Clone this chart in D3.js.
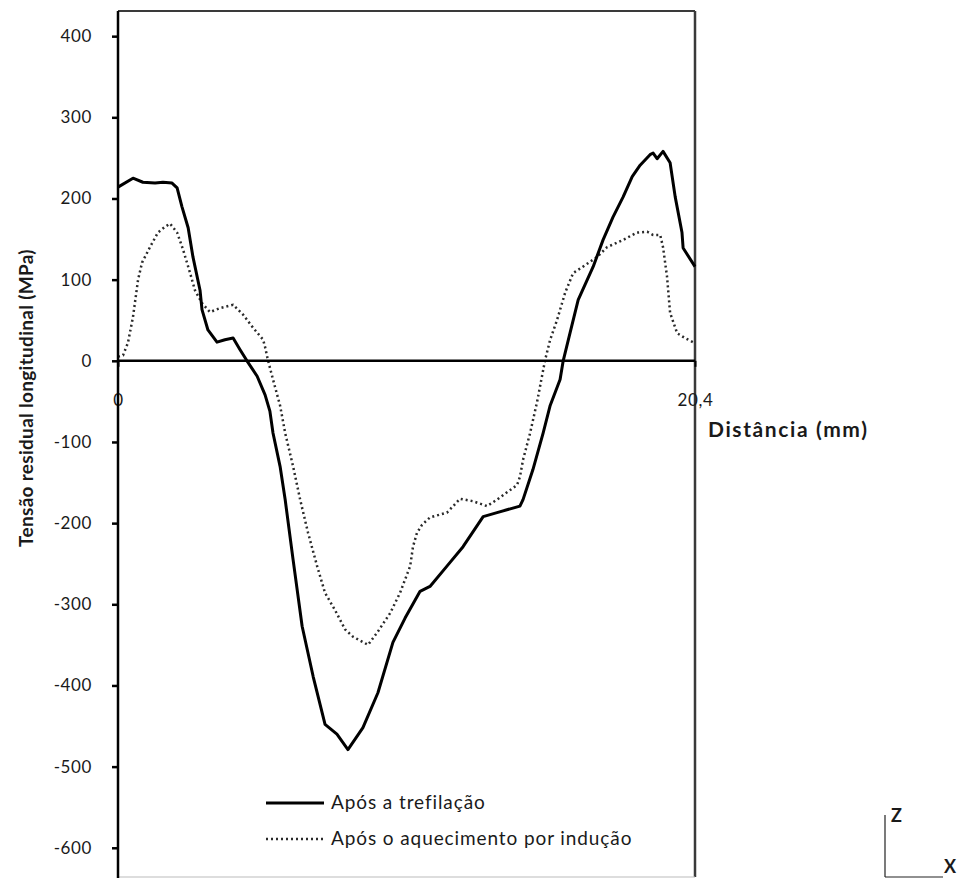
<!DOCTYPE html>
<html><head><meta charset="utf-8">
<script src="https://cdn.jsdelivr.net/npm/d3@7"></script>
<style>
html,body{margin:0;padding:0;background:#fff;}
text{font-family:Lato,"Open Sans",sans-serif;fill:#1a1a1a;}
</style></head>
<body>
<svg id="c" width="958" height="878"></svg>
<script>
const yTicks = [400, 300, 200, 100, 0, -100, -200, -300, -400, -500, -600];
const xTickLabels = ["0", "20,4"];
const xTickValues = [0, 20.4];
const seriesNames = ["Após a trefilação", "Após o aquecimento por indução"];

const trefX = [0, 0.53, 0.88, 1.31, 1.59, 1.91, 2.09, 2.26, 2.48, 2.65, 2.90, 2.97, 3.18, 3.50, 3.78, 4.07, 4.31, 4.56, 4.92, 5.20, 5.37, 5.48, 5.73, 5.91, 6.19, 6.51, 6.90, 7.32, 7.74, 8.13, 8.66, 9.19, 9.72, 10.15, 10.68, 11.03, 11.63, 12.20, 12.91, 13.40, 14.21, 14.32, 14.67, 15.03, 15.28, 15.63, 15.74, 15.98, 16.27, 16.80, 17.15, 17.50, 17.86, 18.18, 18.46, 18.81, 18.92, 19.06, 19.27, 19.52, 19.70, 19.94, 19.98, 20.40];
const trefY = [214, 225, 220, 219, 220, 219, 213, 190, 164, 128, 87, 63, 38, 23, 26, 28, 14, 0, -19, -42, -62, -89, -130, -171, -245, -327, -389, -448, -460, -479, -452, -409, -347, -317, -284, -278, -253, -229, -192, -187, -179, -171, -134, -89, -55, -23, 0, 34, 75, 116, 149, 177, 202, 227, 241, 254, 256, 249, 258, 244, 202, 158, 139, 116];

const aqX = [0, 0.18, 0.35, 0.53, 0.71, 0.85, 1.13, 1.41, 1.66, 1.84, 2.09, 2.30, 2.55, 2.72, 2.97, 3.25, 3.61, 4.07, 4.42, 4.77, 5.13, 5.20, 5.30, 5.48, 5.73, 5.91, 6.19, 6.44, 6.72, 7.04, 7.32, 7.67, 8.03, 8.31, 8.84, 9.16, 9.62, 9.97, 10.33, 10.43, 10.57, 10.75, 11.03, 11.63, 11.85, 12.09, 12.55, 13.05, 13.40, 14.11, 14.21, 14.32, 14.57, 14.82, 15.10, 15.28, 15.52, 15.81, 16.09, 16.44, 16.94, 17.29, 17.86, 18.35, 18.71, 18.92, 19.17, 19.27, 19.41, 19.52, 19.77, 20.05, 20.33];
const aqY = [5, 7, 22, 54, 100, 121, 140, 158, 165, 169, 158, 137, 108, 87, 71, 60, 65, 69, 57, 41, 26, 17, 1, -23, -55, -89, -130, -171, -212, -253, -286, -307, -331, -340, -350, -335, -311, -286, -253, -229, -212, -202, -193, -187, -179, -170, -173, -179, -171, -153, -143, -122, -89, -50, 1, 26, 50, 84, 108, 116, 128, 140, 149, 158, 159, 155, 155, 140, 104, 59, 34, 28, 23];

const svg = d3.select("#c");
const L = 118, R = 695, T = 11, B = 877;
const x = d3.scaleLinear().domain([0, 20.4]).range([L, R]);
const y = d3.scaleLinear().domain([-636, 431]).range([B, T]);

// frame
svg.append("line").attr("x1", L).attr("x2", R).attr("y1", T).attr("y2", T).attr("stroke", "#3a3a3a").attr("stroke-width", 2);
svg.append("line").attr("x1", R).attr("x2", R).attr("y1", T).attr("y2", B).attr("stroke", "#3a3a3a").attr("stroke-width", 2.5);
svg.append("line").attr("x1", L).attr("x2", R).attr("y1", B).attr("y2", B).attr("stroke", "#bbb").attr("stroke-width", 1);

// y axis
const yAxis = d3.axisLeft(y).tickValues(yTicks).tickSize(6).tickPadding(20).tickFormat(d => String(d));
const gy = svg.append("g").attr("transform", `translate(${L},0)`).call(yAxis);
gy.select(".domain").remove();
gy.selectAll(".tick line").attr("stroke", "#000").attr("stroke-width", 2.5);
gy.selectAll(".tick text").style("font-size", "17px").style("letter-spacing", "0.6px").style("fill", "#1a1a1a");

// x axis tick labels (below zero line)
const xAxis = d3.axisBottom(x).tickValues(xTickValues).tickSize(6).tickPadding(27)
  .tickFormat((d, i) => xTickLabels[i]);
const gx = svg.append("g").attr("transform", `translate(0,${y(0)})`).call(xAxis);
gx.select(".domain").remove();
gx.selectAll(".tick line").attr("stroke", "#000").attr("stroke-width", 2);
gx.selectAll(".tick text").style("font-size", "17px").style("letter-spacing", "0.6px").style("fill", "#1a1a1a");

// series
const line = d3.line().x(d => x(d[0])).y(d => y(d[1]));
const aqData = aqX.map((v, i) => [v, aqY[i]]);
const trefData = trefX.map((v, i) => [v, trefY[i]]);
svg.append("path").datum(aqData).attr("d", line).attr("fill", "none")
  .attr("stroke", "#2a2a2a").attr("stroke-width", 2.5).attr("stroke-dasharray", "2,3");
svg.append("path").datum(trefData).attr("d", line).attr("fill", "none")
  .attr("stroke", "#000").attr("stroke-width", 3).attr("stroke-linejoin", "round");

// zero line drawn over
svg.append("line").attr("x1", L).attr("x2", R).attr("y1", y(0)).attr("y2", y(0)).attr("stroke", "#000").attr("stroke-width", 2.5);
// left axis line on top
svg.append("line").attr("x1", L).attr("x2", L).attr("y1", T).attr("y2", B + 2).attr("stroke", "#000").attr("stroke-width", 2.5);

// axis titles
svg.append("text").attr("transform", `translate(33,398) rotate(-90)`).attr("text-anchor", "middle")
  .style("font-size", "19px").style("font-weight", "bold").style("letter-spacing", "0.3px").text("Tensão residual longitudinal (MPa)");
svg.append("text").attr("x", 708).attr("y", 437).style("font-size", "21px").style("font-weight", "bold").style("letter-spacing", "1.6px").text("Distância (mm)");

// legend
const legY = [803, 839];
svg.append("line").attr("x1", 266).attr("x2", 324).attr("y1", legY[0]).attr("y2", legY[0]).attr("stroke", "#000").attr("stroke-width", 3);
svg.append("line").attr("x1", 266).attr("x2", 324).attr("y1", legY[1]).attr("y2", legY[1]).attr("stroke", "#2a2a2a").attr("stroke-width", 2.5).attr("stroke-dasharray", "2,3");
seriesNames.forEach((n, i) => {
  svg.append("text").attr("x", 331).attr("y", legY[i] + 6).style("font-size", "19px").style("letter-spacing", "0.9px").text(n);
});

// Z/X glyph
svg.append("line").attr("x1", 885).attr("x2", 885).attr("y1", 815).attr("y2", 877).attr("stroke", "#222").attr("stroke-width", 1.2);
svg.append("line").attr("x1", 885).attr("x2", 943).attr("y1", 877).attr("y2", 877).attr("stroke", "#222").attr("stroke-width", 1.2);
svg.append("text").attr("x", 891).attr("y", 822).style("font-size", "18px").style("font-weight", "bold").text("Z");
svg.append("text").attr("x", 944).attr("y", 873).style("font-size", "18px").style("font-weight", "bold").text("X");
</script>
</body></html>
